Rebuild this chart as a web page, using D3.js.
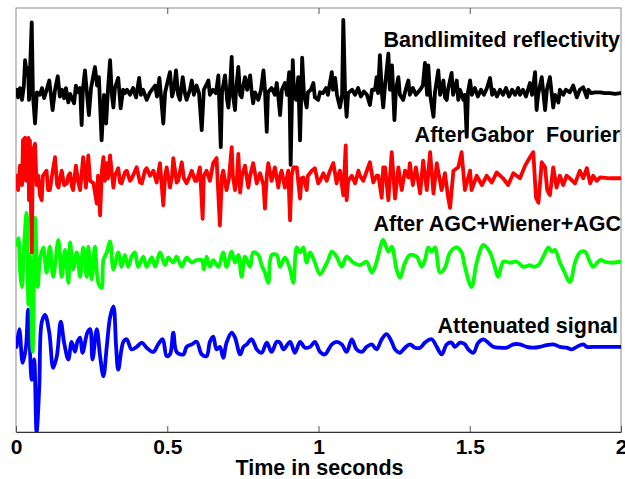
<!DOCTYPE html>
<html>
<head>
<meta charset="utf-8">
<script src="https://cdn.jsdelivr.net/npm/d3@7"></script>
<style>
  body { margin: 0; background: #fff; }
  svg { display: block; }
  text { font-family: "Liberation Sans", Arial, Helvetica, sans-serif; font-weight: bold; }
</style>
</head>
<body>
<svg id="chart" width="625" height="479"></svg>
<script>
// ---- axis ----
const timeTicks = [0, 0.5, 1, 1.5, 2];
const tickLabels = ["0", "0.5", "1", "1.5", "2"];
const axisTitle = "Time in seconds";

// ---- traces: [time (s), amplitude], each trace plotted about its own offset ----
const traceNames = ["Bandlimited reflectivity", "After Gabor  Fourier", "After AGC+Wiener+AGC", "Attenuated signal"];
const traceOffsets = [0, -1, -2, -3];
const traceColors = ["#000000", "#ff0000", "#00ff00", "#0000ff"];
const labelTimes = [1.997, 1.997, 2.0, 1.99];
const labelLevels = [0.55, -0.58, -1.64, -2.85];

const reflectivity = [
  [0.002,0.04],[0.007,-0.05],[0.013,0.06],[0.020,-0.08],[0.026,0.09],[0.030,0.39],[0.036,0.21],[0.040,0.30],
  [0.043,-0.08],[0.052,0.84],[0.056,-0.02],[0.063,-0.36],[0.069,0.01],[0.079,-0.02],[0.086,0.06],[0.093,-0.06],
  [0.099,0.01],[0.110,0.15],[0.116,-0.04],[0.121,-0.20],[0.129,0.04],[0.138,0.20],[0.145,-0.04],[0.152,0.04],
  [0.159,-0.06],[0.165,0.06],[0.173,-0.11],[0.179,-0.01],[0.192,-0.12],[0.198,0.09],[0.205,0.01],[0.212,0.06],
  [0.217,-0.38],[0.221,0.04],[0.228,0.27],[0.235,-0.02],[0.241,-0.26],[0.248,0.06],[0.261,0.31],[0.268,0.09],
  [0.274,0.19],[0.283,-0.56],[0.291,-0.02],[0.298,-0.36],[0.304,0.04],[0.311,0.39],[0.317,-0.02],[0.322,-0.17],
  [0.327,0.06],[0.338,0.18],[0.346,-0.18],[0.354,0.04],[0.360,0.00],[0.367,0.04],[0.377,-0.02],[0.387,0.06],
  [0.397,-0.05],[0.407,0.18],[0.413,-0.02],[0.420,0.04],[0.432,-0.08],[0.443,0.01],[0.460,0.09],[0.466,-0.04],
  [0.474,0.18],[0.479,-0.02],[0.487,-0.36],[0.493,0.01],[0.509,0.25],[0.516,-0.04],[0.522,0.04],[0.529,0.27],
  [0.536,-0.02],[0.542,-0.08],[0.551,0.19],[0.559,-0.01],[0.564,-0.08],[0.575,0.04],[0.581,0.15],[0.588,-0.02],
  [0.597,0.09],[0.605,0.00],[0.614,-0.44],[0.621,0.04],[0.636,0.15],[0.641,-0.02],[0.651,0.04],[0.661,0.00],
  [0.669,0.21],[0.677,-0.64],[0.681,0.01],[0.691,0.21],[0.698,-0.08],[0.702,-0.17],[0.707,0.04],[0.713,0.43],
  [0.717,-0.02],[0.724,-0.20],[0.727,0.01],[0.735,0.31],[0.741,-0.02],[0.746,-0.05],[0.750,0.06],[0.757,0.19],
  [0.764,0.04],[0.774,0.21],[0.780,-0.02],[0.784,-0.12],[0.790,0.01],[0.801,-0.08],[0.810,0.04],[0.818,0.27],
  [0.823,0.04],[0.829,-0.46],[0.833,0.01],[0.845,0.06],[0.856,-0.02],[0.862,0.12],[0.866,0.00],[0.873,-0.26],
  [0.879,0.04],[0.889,0.12],[0.896,-0.02],[0.903,0.25],[0.908,-0.85],[0.915,0.39],[0.919,-0.02],[0.926,-0.08],
  [0.933,0.19],[0.939,-0.56],[0.946,0.42],[0.952,-0.02],[0.961,-0.17],[0.965,0.01],[0.975,0.04],[0.983,0.12],
  [0.988,-0.05],[0.999,-0.08],[1.005,0.01],[1.015,0.00],[1.025,0.06],[1.031,-0.02],[1.044,0.25],[1.048,0.04],
  [1.055,0.18],[1.061,-0.02],[1.071,-0.17],[1.078,-0.02],[1.082,0.87],[1.088,-0.02],[1.093,-0.28],[1.098,0.00],
  [1.111,0.04],[1.121,-0.02],[1.131,0.06],[1.140,-0.04],[1.150,0.02],[1.160,-0.02],[1.170,-0.14],[1.177,0.04],
  [1.187,0.04],[1.192,0.19],[1.197,0.00],[1.203,0.45],[1.210,-0.02],[1.214,-0.17],[1.220,0.09],[1.231,0.47],
  [1.236,0.04],[1.243,0.33],[1.251,-0.32],[1.256,0.04],[1.264,0.19],[1.269,-0.02],[1.280,-0.08],[1.286,0.01],
  [1.297,0.15],[1.302,-0.02],[1.312,0.06],[1.322,-0.02],[1.336,0.04],[1.345,0.09],[1.352,0.36],[1.359,-0.02],
  [1.363,0.33],[1.369,-0.02],[1.380,-0.28],[1.385,0.01],[1.396,0.27],[1.402,-0.02],[1.413,0.15],[1.418,-0.05],
  [1.424,-0.08],[1.428,0.04],[1.440,0.24],[1.445,-0.02],[1.457,0.15],[1.462,-0.08],[1.468,0.04],[1.479,-0.08],
  [1.484,-0.02],[1.490,-0.52],[1.494,0.01],[1.501,0.15],[1.507,-0.02],[1.517,0.06],[1.527,-0.04],[1.537,0.04],
  [1.547,-0.02],[1.557,0.06],[1.567,0.18],[1.574,-0.02],[1.580,0.04],[1.590,-0.04],[1.600,0.04],[1.610,-0.02],
  [1.620,0.06],[1.630,-0.04],[1.640,0.04],[1.650,-0.02],[1.660,0.06],[1.666,-0.02],[1.676,0.04],[1.686,-0.04],
  [1.699,0.12],[1.706,-0.02],[1.716,0.25],[1.721,-0.20],[1.726,-0.02],[1.738,0.19],[1.749,-0.20],[1.755,0.04],
  [1.765,0.19],[1.776,-0.17],[1.782,-0.02],[1.793,-0.11],[1.798,0.04],[1.809,-0.02],[1.818,0.04],[1.831,0.01],
  [1.842,0.09],[1.854,-0.05],[1.864,0.04],[1.875,0.07],[1.887,-0.05],[1.892,0.04],[1.901,0.00],[1.914,0.01],
  [1.931,0.01],[1.947,0.00],[1.964,0.00],[1.980,-0.01],[2.000,0.00]
];

const gaborFourier = [
  [0.002,0.02],[0.007,-0.15],[0.013,0.14],[0.020,-0.09],[0.023,0.44],[0.030,0.47],[0.033,-0.04],[0.036,0.38],
  [0.041,0.47],[0.043,-0.27],[0.046,0.44],[0.052,-0.89],[0.056,0.32],[0.063,0.40],[0.068,-0.09],[0.074,0.02],
  [0.079,-0.21],[0.085,-0.27],[0.089,0.02],[0.101,0.08],[0.106,-0.15],[0.112,-0.15],[0.119,0.02],[0.129,0.24],
  [0.136,-0.09],[0.140,-0.12],[0.151,0.08],[0.159,-0.09],[0.168,-0.07],[0.173,0.02],[0.179,0.05],[0.185,-0.11],
  [0.189,-0.15],[0.198,0.14],[0.205,-0.04],[0.212,-0.15],[0.222,0.24],[0.231,-0.12],[0.239,0.26],[0.245,-0.04],
  [0.256,-0.07],[0.267,-0.31],[0.271,0.02],[0.278,-0.45],[0.284,0.08],[0.289,0.24],[0.294,-0.04],[0.300,0.17],
  [0.304,-0.01],[0.311,0.26],[0.316,0.08],[0.322,-0.12],[0.327,0.02],[0.338,0.11],[0.344,-0.06],[0.349,-0.07],
  [0.360,0.06],[0.366,0.08],[0.377,-0.04],[0.383,-0.01],[0.399,0.12],[0.410,-0.06],[0.416,-0.07],[0.426,0.08],
  [0.432,0.11],[0.443,0.02],[0.454,0.08],[0.465,-0.06],[0.476,0.17],[0.487,-0.33],[0.493,0.02],[0.498,0.12],
  [0.509,-0.12],[0.516,0.02],[0.520,0.23],[0.531,-0.06],[0.536,-0.04],[0.548,0.18],[0.555,-0.01],[0.564,-0.07],
  [0.575,0.02],[0.581,0.08],[0.592,-0.04],[0.597,-0.04],[0.608,0.12],[0.617,-0.49],[0.621,0.02],[0.630,0.08],
  [0.641,-0.04],[0.652,0.17],[0.663,0.23],[0.674,-0.57],[0.681,0.02],[0.685,0.08],[0.696,-0.15],[0.704,-0.01],
  [0.713,0.36],[0.717,0.02],[0.724,-0.15],[0.730,-0.04],[0.735,0.28],[0.741,-0.18],[0.747,0.02],[0.757,0.14],
  [0.768,-0.12],[0.774,0.02],[0.784,0.17],[0.796,-0.07],[0.807,0.05],[0.818,-0.09],[0.823,-0.37],[0.829,0.02],
  [0.834,0.17],[0.845,-0.04],[0.856,0.12],[0.867,-0.12],[0.873,0.02],[0.878,0.08],[0.889,-0.12],[0.900,0.08],
  [0.906,-0.51],[0.911,0.02],[0.917,0.12],[0.928,0.12],[0.939,-0.25],[0.944,-0.01],[0.950,0.00],[0.961,-0.15],
  [0.965,0.02],[0.978,0.08],[0.988,0.11],[0.999,-0.07],[1.005,-0.04],[1.016,0.05],[1.027,-0.04],[1.038,0.08],
  [1.049,0.17],[1.060,-0.07],[1.064,0.02],[1.071,0.08],[1.082,-0.21],[1.090,0.38],[1.093,-0.27],[1.098,-0.04],
  [1.110,0.02],[1.121,-0.07],[1.132,0.08],[1.137,0.02],[1.148,-0.04],[1.154,0.02],[1.170,0.18],[1.181,-0.06],
  [1.192,0.02],[1.198,0.02],[1.209,-0.24],[1.214,0.12],[1.220,0.12],[1.231,-0.27],[1.242,0.30],[1.253,-0.25],
  [1.264,0.12],[1.275,-0.15],[1.286,0.08],[1.297,0.00],[1.302,0.17],[1.312,-0.09],[1.322,0.12],[1.336,-0.19],
  [1.346,0.20],[1.358,-0.15],[1.369,0.30],[1.380,-0.19],[1.391,0.17],[1.407,-0.15],[1.418,0.05],[1.429,-0.25],
  [1.435,-0.36],[1.446,0.08],[1.462,0.12],[1.473,0.30],[1.484,-0.15],[1.501,0.08],[1.506,-0.15],[1.523,0.02],
  [1.540,-0.09],[1.556,0.02],[1.573,-0.06],[1.589,0.06],[1.610,-0.01],[1.627,-0.09],[1.644,0.05],[1.666,-0.01],
  [1.683,0.14],[1.699,0.24],[1.710,0.30],[1.719,-0.24],[1.727,-0.30],[1.738,0.18],[1.749,0.12],[1.756,-0.15],
  [1.765,-0.21],[1.776,0.12],[1.787,-0.12],[1.798,0.02],[1.809,-0.09],[1.820,0.02],[1.831,-0.01],[1.848,-0.07],
  [1.864,0.08],[1.875,-0.01],[1.887,0.11],[1.898,-0.07],[1.908,0.02],[1.920,-0.04],[1.931,0.00],[1.964,-0.01],
  [2.000,-0.01]
];

const agcWiener = [
  [0.002,0.20],[0.008,0.28],[0.013,-0.09],[0.020,-0.30],[0.026,0.14],[0.035,0.58],[0.041,-0.51],[0.046,0.08],
  [0.055,-1.07],[0.063,0.52],[0.072,-0.30],[0.079,0.02],[0.090,0.17],[0.101,-0.13],[0.112,0.18],[0.123,-0.18],
  [0.140,0.26],[0.151,-0.18],[0.162,0.14],[0.173,-0.25],[0.179,0.23],[0.189,-0.09],[0.201,0.11],[0.212,-0.18],
  [0.222,0.17],[0.234,-0.18],[0.239,0.18],[0.250,-0.21],[0.261,0.18],[0.272,-0.25],[0.283,-0.31],[0.289,0.02],
  [0.300,0.11],[0.311,0.24],[0.322,-0.09],[0.338,0.11],[0.349,-0.06],[0.360,0.08],[0.371,-0.06],[0.382,0.06],
  [0.393,0.11],[0.404,-0.06],[0.421,0.06],[0.432,-0.06],[0.449,0.05],[0.460,-0.06],[0.476,0.11],[0.493,-0.04],
  [0.503,0.05],[0.520,-0.01],[0.531,0.06],[0.548,-0.06],[0.564,0.05],[0.581,-0.01],[0.597,0.02],[0.614,0.02],
  [0.621,-0.09],[0.630,0.06],[0.641,-0.06],[0.652,0.02],[0.669,-0.06],[0.685,0.11],[0.696,-0.06],[0.713,0.12],
  [0.724,-0.01],[0.735,0.08],[0.746,-0.18],[0.757,0.06],[0.774,-0.06],[0.784,0.11],[0.801,0.08],[0.812,-0.04],
  [0.823,-0.13],[0.834,-0.25],[0.845,0.08],[0.862,0.08],[0.873,-0.06],[0.889,0.05],[0.906,-0.09],[0.917,-0.25],
  [0.928,0.17],[0.939,0.11],[0.950,0.17],[0.961,-0.01],[0.972,0.11],[0.988,-0.01],[1.005,-0.15],[1.021,-0.06],
  [1.032,0.02],[1.044,0.12],[1.060,0.06],[1.077,-0.06],[1.093,0.06],[1.115,-0.01],[1.137,-0.04],[1.159,0.00],
  [1.176,-0.13],[1.187,-0.06],[1.198,0.08],[1.214,0.26],[1.231,0.12],[1.242,0.18],[1.258,-0.09],[1.269,-0.19],
  [1.286,-0.01],[1.302,0.08],[1.325,0.06],[1.341,-0.06],[1.352,0.02],[1.363,0.17],[1.374,0.12],[1.385,0.17],
  [1.402,-0.13],[1.418,-0.07],[1.435,0.11],[1.457,0.17],[1.473,0.11],[1.484,-0.06],[1.506,-0.30],[1.523,-0.01],
  [1.545,0.20],[1.567,0.11],[1.583,-0.06],[1.594,-0.18],[1.611,0.00],[1.633,-0.01],[1.655,0.00],[1.677,-0.06],
  [1.699,-0.04],[1.710,-0.06],[1.727,-0.04],[1.743,0.06],[1.760,0.17],[1.771,0.12],[1.782,0.14],[1.798,-0.01],
  [1.809,-0.09],[1.831,-0.24],[1.848,-0.01],[1.864,0.11],[1.881,0.12],[1.898,-0.01],[1.908,-0.06],[1.931,0.02],
  [1.947,0.00],[1.964,-0.01],[2.000,0.00]
];

const attenuated = [
  [0.002,-0.01],[0.011,0.20],[0.022,-0.20],[0.033,-0.01],[0.040,0.43],[0.052,-0.40],[0.060,-0.16],[0.068,-1.02],
  [0.077,-0.48],[0.085,0.28],[0.096,0.37],[0.110,0.16],[0.123,-0.26],[0.135,-0.12],[0.148,0.29],[0.159,0.04],
  [0.173,-0.16],[0.184,0.05],[0.195,-0.07],[0.203,0.05],[0.212,0.10],[0.220,-0.08],[0.236,0.16],[0.245,0.20],
  [0.253,-0.16],[0.267,0.20],[0.278,-0.12],[0.289,-0.36],[0.300,-0.01],[0.311,0.34],[0.322,0.47],[0.331,-0.01],
  [0.338,-0.28],[0.355,0.05],[0.366,0.08],[0.382,-0.04],[0.399,-0.01],[0.416,0.04],[0.432,-0.02],[0.454,-0.07],
  [0.470,0.02],[0.485,0.08],[0.498,-0.12],[0.509,-0.10],[0.520,0.16],[0.531,-0.07],[0.553,-0.10],[0.564,-0.01],
  [0.581,0.02],[0.597,0.05],[0.614,-0.10],[0.630,-0.12],[0.641,0.05],[0.652,0.11],[0.663,-0.04],[0.674,-0.01],
  [0.685,-0.14],[0.696,0.04],[0.713,0.16],[0.724,0.10],[0.741,-0.10],[0.752,-0.01],[0.763,0.02],[0.779,0.08],
  [0.796,-0.04],[0.812,-0.08],[0.829,0.04],[0.845,-0.07],[0.862,0.05],[0.873,0.04],[0.884,-0.04],[0.906,0.05],
  [0.922,-0.08],[0.939,0.05],[0.955,-0.02],[0.972,-0.01],[0.988,0.05],[1.005,-0.07],[1.021,-0.10],[1.044,0.02],
  [1.060,0.05],[1.077,0.02],[1.093,-0.07],[1.110,0.08],[1.126,-0.04],[1.143,-0.07],[1.159,-0.01],[1.176,0.02],
  [1.192,-0.04],[1.209,0.08],[1.225,0.14],[1.242,0.05],[1.253,-0.04],[1.269,-0.08],[1.286,-0.02],[1.302,0.02],
  [1.319,-0.02],[1.336,-0.02],[1.352,0.04],[1.374,0.08],[1.391,-0.01],[1.407,-0.10],[1.424,0.02],[1.440,0.04],
  [1.451,-0.01],[1.468,0.04],[1.484,0.02],[1.495,-0.04],[1.512,-0.08],[1.528,0.04],[1.545,0.08],[1.561,0.04],
  [1.578,-0.01],[1.600,-0.02],[1.622,-0.02],[1.644,0.02],[1.666,0.02],[1.688,-0.01],[1.710,-0.02],[1.732,-0.01],
  [1.754,0.01],[1.776,0.02],[1.798,-0.01],[1.820,-0.02],[1.837,-0.04],[1.854,-0.01],[1.875,0.02],[1.887,-0.01],
  [1.908,-0.01],[1.931,-0.01],[1.964,-0.01],[2.000,-0.01]
];

const traces = [reflectivity, gaborFourier, agcWiener, attenuated];
const traceCurves = [d3.curveLinear, d3.curveLinear, d3.curveCatmullRom.alpha(0.5), d3.curveCatmullRom.alpha(0.5)];

// ---- layout ----
const svg = d3.select("#chart");
const plot = { left: 16, right: 621, top: 8, bottom: 432 };
const fontSize = 21.5;
const tickFontSize = 21;

const x = d3.scaleLinear().domain([0, 2]).range([plot.left, plot.right]);
const y = d3.scaleLinear().domain([-4.02, 1.01]).range([plot.bottom, plot.top]);

svg.append("defs").append("clipPath").attr("id", "plot-clip")
  .append("rect")
  .attr("x", plot.left).attr("y", plot.top)
  .attr("width", plot.right - plot.left).attr("height", plot.bottom - plot.top);

// frame
svg.append("rect")
  .attr("x", plot.left).attr("y", plot.top)
  .attr("width", plot.right - plot.left).attr("height", plot.bottom - plot.top)
  .attr("fill", "none").attr("stroke", "#8c8c8c").attr("stroke-width", 1);

// traces, deepest first so the upper traces overlap the lower ones
const traceLayer = svg.append("g").attr("clip-path", "url(#plot-clip)");
for (let i = traces.length - 1; i >= 0; i--) {
  const line = d3.line()
    .x(d => x(d[0]))
    .y(d => y(traceOffsets[i] + d[1]))
    .curve(traceCurves[i]);
  traceLayer.append("path")
    .datum(traces[i])
    .attr("d", line)
    .attr("fill", "none")
    .attr("stroke", traceColors[i])
    .attr("stroke-width", 3.8)
    .attr("stroke-linejoin", "round")
    .attr("stroke-linecap", "round");
}

// bottom axis with inward ticks
const xAxis = d3.axisBottom(x)
  .tickValues(timeTicks)
  .tickFormat((d, i) => tickLabels[i])
  .tickSizeInner(-6)
  .tickSizeOuter(0)
  .tickPadding(7);
const gx = svg.append("g").attr("transform", `translate(0,${plot.bottom})`).call(xAxis);
gx.select(".domain").attr("stroke", "#333").attr("stroke-width", 1.2);
gx.selectAll(".tick line").attr("stroke", "#555");
gx.selectAll(".tick text")
  .attr("font-size", tickFontSize).attr("font-weight", "bold").attr("fill", "#000")
  .attr("font-family", "'Liberation Sans', Arial, Helvetica, sans-serif");

// matching ticks on the top edge
const xTop = d3.axisTop(x)
  .tickValues(timeTicks.slice(1, -1))
  .tickFormat("")
  .tickSizeInner(-6)
  .tickSizeOuter(0);
const gt = svg.append("g").attr("transform", `translate(0,${plot.top})`).call(xTop);
gt.select(".domain").remove();
gt.selectAll(".tick line").attr("stroke", "#555");

// axis title
svg.append("text")
  .attr("x", (plot.left + plot.right) / 2 + 1)
  .attr("y", 474.5)
  .attr("text-anchor", "middle")
  .attr("font-size", fontSize)
  .text(axisTitle);

// trace labels
svg.append("g").selectAll("text")
  .data(traceNames)
  .join("text")
  .attr("x", (d, i) => x(labelTimes[i]))
  .attr("y", (d, i) => y(labelLevels[i]))
  .attr("text-anchor", "end")
  .attr("font-size", fontSize)
  .style("white-space", "pre")
  .text(d => d);
</script>
</body>
</html>
